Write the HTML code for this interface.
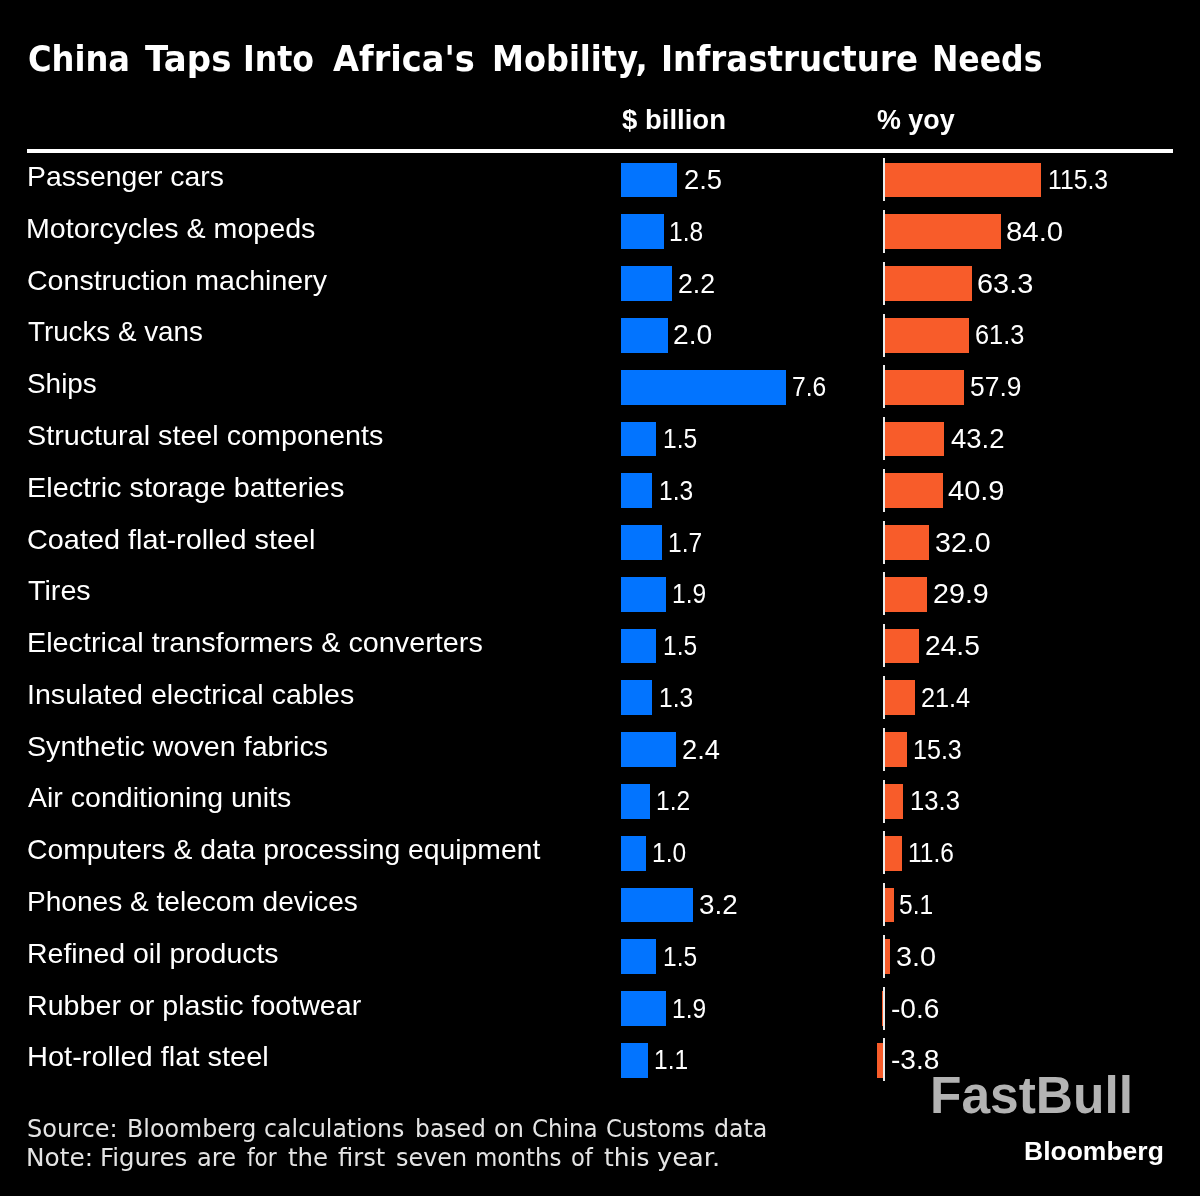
<!DOCTYPE html>
<html lang="en"><head><meta charset="utf-8"><title>China Taps Into Africa's Mobility, Infrastructure Needs</title>
<style>
html,body{margin:0;padding:0;background:#000;}
body{width:1200px;height:1196px;position:relative;overflow:hidden;color:#fff;font-family:"Liberation Sans",sans-serif;}
div,span.w{position:absolute;white-space:pre;transform-origin:0 0;}
.tw{font-family:"DejaVu Sans",sans-serif;font-weight:bold;font-size:35px;line-height:40px;top:39.4px;}
.hd{font-weight:bold;font-size:27.8px;line-height:32px;top:103.5px;}
.rule{left:27px;top:149px;width:1146px;height:4px;background:#fff;}
.lab{font-size:28.3px;line-height:34px;top:calc(159.1px + var(--i) * 51.78px);}
.val{font-size:28.2px;line-height:34px;top:calc(162.1px + var(--i) * 51.78px);}
.bb{left:621px;height:34.8px;background:#0274ff;top:calc(162.6px + var(--i) * 51.78px);}
.ob{height:34.8px;background:#f85c2a;top:calc(162.6px + var(--i) * 51.78px);}
.ax{left:883px;width:1.5px;height:43px;background:#ececec;top:calc(158.2px + var(--i) * 51.78px);}
.s1,.s2{font-family:"DejaVu Sans",sans-serif;font-size:24px;line-height:30px;color:#e4e4e4;}
.s1{top:1114.2px}.s2{top:1143.2px}
.fb{font-weight:bold;font-size:52.6px;line-height:60px;color:#b3b3b3;top:1065.2px;}
.bl{font-weight:bold;font-size:26.4px;line-height:30px;top:1135.7px;}
</style></head><body style="height:1196px">
<h1 style="margin:0;font-size:inherit;font-weight:inherit">
<span class="w tw" style="left:27.7px;transform:scaleX(0.918)">China </span>
<span class="w tw" style="left:144.9px;transform:scaleX(0.972)">Taps </span>
<span class="w tw" style="left:243.2px;transform:scaleX(0.902)">Into </span>
<span class="w tw" style="left:332.6px;transform:scaleX(0.962)">Africa's </span>
<span class="w tw" style="left:492.2px;transform:scaleX(0.916)">Mobility, </span>
<span class="w tw" style="left:661.1px;transform:scaleX(0.927)">Infrastructure </span>
<span class="w tw" style="left:932.2px;transform:scaleX(0.900)">Needs </span>
</h1>
<div class="hd" style="left:621.7px;transform:scaleX(0.990);">$ billion</div>
<div class="hd" style="left:877.3px;transform:scaleX(0.967);">% yoy</div>
<div class="rule"></div>
<div class="lab" style="left:26.7px;transform:scaleX(1.001);--i:0">Passenger cars</div>
<div class="bb" style="width:55.8px;--i:0"></div>
<div class="val" style="left:683.8px;transform:scaleX(0.973);--i:0">2.5</div>
<div class="ax" style="--i:0"></div>
<div class="ob" style="left:884.6px;width:156.6px;--i:0"></div>
<div class="val" style="left:1048.0px;transform:scaleX(0.878);--i:0">115.3</div>
<div class="lab" style="left:26.4px;transform:scaleX(1.011);--i:1">Motorcycles &amp; mopeds</div>
<div class="bb" style="width:42.5px;--i:1"></div>
<div class="val" style="left:669.2px;transform:scaleX(0.870);--i:1">1.8</div>
<div class="ax" style="--i:1"></div>
<div class="ob" style="left:884.6px;width:116.6px;--i:1"></div>
<div class="val" style="left:1005.5px;transform:scaleX(1.042);--i:1">84.0</div>
<div class="lab" style="left:27.1px;transform:scaleX(1.009);--i:2">Construction machinery</div>
<div class="bb" style="width:50.5px;--i:2"></div>
<div class="val" style="left:677.9px;transform:scaleX(0.948);--i:2">2.2</div>
<div class="ax" style="--i:2"></div>
<div class="ob" style="left:884.6px;width:87.1px;--i:2"></div>
<div class="val" style="left:977.2px;transform:scaleX(1.026);--i:2">63.3</div>
<div class="lab" style="left:28.0px;transform:scaleX(0.981);--i:3">Trucks &amp; vans</div>
<div class="bb" style="width:46.5px;--i:3"></div>
<div class="val" style="left:673.0px;transform:scaleX(1.002);--i:3">2.0</div>
<div class="ax" style="--i:3"></div>
<div class="ob" style="left:884.6px;width:84.9px;--i:3"></div>
<div class="val" style="left:975.4px;transform:scaleX(0.899);--i:3">61.3</div>
<div class="lab" style="left:27.1px;transform:scaleX(0.986);--i:4">Ships</div>
<div class="bb" style="width:164.8px;--i:4"></div>
<div class="val" style="left:792.3px;transform:scaleX(0.873);--i:4">7.6</div>
<div class="ax" style="--i:4"></div>
<div class="ob" style="left:884.6px;width:79.6px;--i:4"></div>
<div class="val" style="left:970.0px;transform:scaleX(0.937);--i:4">57.9</div>
<div class="lab" style="left:27.0px;transform:scaleX(1.016);--i:5">Structural steel components</div>
<div class="bb" style="width:35.0px;--i:5"></div>
<div class="val" style="left:663.0px;transform:scaleX(0.870);--i:5">1.5</div>
<div class="ax" style="--i:5"></div>
<div class="ob" style="left:884.6px;width:59.5px;--i:5"></div>
<div class="val" style="left:951.3px;transform:scaleX(0.976);--i:5">43.2</div>
<div class="lab" style="left:26.8px;transform:scaleX(1.019);--i:6">Electric storage batteries</div>
<div class="bb" style="width:31.0px;--i:6"></div>
<div class="val" style="left:659.0px;transform:scaleX(0.870);--i:6">1.3</div>
<div class="ax" style="--i:6"></div>
<div class="ob" style="left:884.6px;width:58.2px;--i:6"></div>
<div class="val" style="left:947.8px;transform:scaleX(1.030);--i:6">40.9</div>
<div class="lab" style="left:27.1px;transform:scaleX(1.019);--i:7">Coated flat-rolled steel</div>
<div class="bb" style="width:40.6px;--i:7"></div>
<div class="val" style="left:667.6px;transform:scaleX(0.870);--i:7">1.7</div>
<div class="ax" style="--i:7"></div>
<div class="ob" style="left:884.6px;width:44.3px;--i:7"></div>
<div class="val" style="left:935.3px;transform:scaleX(1.014);--i:7">32.0</div>
<div class="lab" style="left:28.0px;transform:scaleX(1.014);--i:8">Tires</div>
<div class="bb" style="width:44.7px;--i:8"></div>
<div class="val" style="left:671.9px;transform:scaleX(0.870);--i:8">1.9</div>
<div class="ax" style="--i:8"></div>
<div class="ob" style="left:884.6px;width:42.1px;--i:8"></div>
<div class="val" style="left:932.5px;transform:scaleX(1.017);--i:8">29.9</div>
<div class="lab" style="left:26.8px;transform:scaleX(1.017);--i:9">Electrical transformers &amp; converters</div>
<div class="bb" style="width:35.0px;--i:9"></div>
<div class="val" style="left:663.0px;transform:scaleX(0.870);--i:9">1.5</div>
<div class="ax" style="--i:9"></div>
<div class="ob" style="left:884.6px;width:34.9px;--i:9"></div>
<div class="val" style="left:925.0px;transform:scaleX(1.000);--i:9">24.5</div>
<div class="lab" style="left:26.9px;transform:scaleX(1.010);--i:10">Insulated electrical cables</div>
<div class="bb" style="width:31.0px;--i:10"></div>
<div class="val" style="left:659.0px;transform:scaleX(0.870);--i:10">1.3</div>
<div class="ax" style="--i:10"></div>
<div class="ob" style="left:884.6px;width:30.9px;--i:10"></div>
<div class="val" style="left:921.1px;transform:scaleX(0.896);--i:10">21.4</div>
<div class="lab" style="left:27.0px;transform:scaleX(1.013);--i:11">Synthetic woven fabrics</div>
<div class="bb" style="width:54.5px;--i:11"></div>
<div class="val" style="left:681.7px;transform:scaleX(0.970);--i:11">2.4</div>
<div class="ax" style="--i:11"></div>
<div class="ob" style="left:884.6px;width:22.9px;--i:11"></div>
<div class="val" style="left:913.1px;transform:scaleX(0.890);--i:11">15.3</div>
<div class="lab" style="left:28.0px;transform:scaleX(1.008);--i:12">Air conditioning units</div>
<div class="bb" style="width:29.1px;--i:12"></div>
<div class="val" style="left:655.8px;transform:scaleX(0.870);--i:12">1.2</div>
<div class="ax" style="--i:12"></div>
<div class="ob" style="left:884.6px;width:18.9px;--i:12"></div>
<div class="val" style="left:910.2px;transform:scaleX(0.910);--i:12">13.3</div>
<div class="lab" style="left:27.1px;transform:scaleX(1.001);--i:13">Computers &amp; data processing equipment</div>
<div class="bb" style="width:25.1px;--i:13"></div>
<div class="val" style="left:652.3px;transform:scaleX(0.870);--i:13">1.0</div>
<div class="ax" style="--i:13"></div>
<div class="ob" style="left:884.6px;width:17.0px;--i:13"></div>
<div class="val" style="left:907.6px;transform:scaleX(0.870);--i:13">11.6</div>
<div class="lab" style="left:26.7px;transform:scaleX(0.992);--i:14">Phones &amp; telecom devices</div>
<div class="bb" style="width:71.9px;--i:14"></div>
<div class="val" style="left:698.5px;transform:scaleX(0.985);--i:14">3.2</div>
<div class="ax" style="--i:14"></div>
<div class="ob" style="left:884.6px;width:9.5px;--i:14"></div>
<div class="val" style="left:899.3px;transform:scaleX(0.870);--i:14">5.1</div>
<div class="lab" style="left:26.8px;transform:scaleX(1.006);--i:15">Refined oil products</div>
<div class="bb" style="width:35.0px;--i:15"></div>
<div class="val" style="left:663.0px;transform:scaleX(0.870);--i:15">1.5</div>
<div class="ax" style="--i:15"></div>
<div class="ob" style="left:884.6px;width:5.5px;--i:15"></div>
<div class="val" style="left:896.2px;transform:scaleX(1.023);--i:15">3.0</div>
<div class="lab" style="left:26.8px;transform:scaleX(1.012);--i:16">Rubber or plastic footwear</div>
<div class="bb" style="width:44.7px;--i:16"></div>
<div class="val" style="left:671.9px;transform:scaleX(0.870);--i:16">1.9</div>
<div class="ax" style="--i:16"></div>
<div class="ob" style="left:882.2px;width:1px;--i:16"></div>
<div class="val" style="left:891.2px;transform:scaleX(0.998);--i:16">-0.6</div>
<div class="lab" style="left:26.8px;transform:scaleX(1.025);--i:17">Hot-rolled flat steel</div>
<div class="bb" style="width:27.0px;--i:17"></div>
<div class="val" style="left:653.5px;transform:scaleX(0.870);--i:17">1.1</div>
<div class="ax" style="--i:17"></div>
<div class="ob" style="left:876.8px;width:6.2px;--i:17"></div>
<div class="val" style="left:891.2px;transform:scaleX(0.997);--i:17">-3.8</div>
<p style="margin:0">
<span class="w s1" style="left:27.0px;transform:scaleX(1.002)">Source: </span>
<span class="w s1" style="left:126.8px;transform:scaleX(0.991)">Bloomberg </span>
<span class="w s1" style="left:263.8px;transform:scaleX(0.982)">calculations </span>
<span class="w s1" style="left:414.6px;transform:scaleX(0.978)">based </span>
<span class="w s1" style="left:493.8px;transform:scaleX(0.999)">on </span>
<span class="w s1" style="left:531.8px;transform:scaleX(0.958)">China </span>
<span class="w s1" style="left:605.5px;transform:scaleX(0.947)">Customs </span>
<span class="w s1" style="left:713.8px;transform:scaleX(0.987)">data </span>
<span class="w s2" style="left:26.0px;transform:scaleX(1.033)">Note: </span>
<span class="w s2" style="left:99.5px;transform:scaleX(1.018)">Figures </span>
<span class="w s2" style="left:197.0px;transform:scaleX(1.006)">are </span>
<span class="w s2" style="left:246.5px;transform:scaleX(0.900)">for </span>
<span class="w s2" style="left:288.0px;transform:scaleX(1.020)">the </span>
<span class="w s2" style="left:338.0px;transform:scaleX(1.006)">first </span>
<span class="w s2" style="left:395.5px;transform:scaleX(0.996)">seven </span>
<span class="w s2" style="left:475.0px;transform:scaleX(0.956)">months </span>
<span class="w s2" style="left:570.6px;transform:scaleX(0.942)">of </span>
<span class="w s2" style="left:603.7px;transform:scaleX(1.037)">this </span>
<span class="w s2" style="left:656.9px;transform:scaleX(1.069)">year. </span>
</p>
<div class="fb" style="left:929.6px;transform:scaleX(0.979);">FastBull</div>
<div class="bl" style="left:1024.0px;transform:scaleX(1.004);">Bloomberg</div>
</body></html>
